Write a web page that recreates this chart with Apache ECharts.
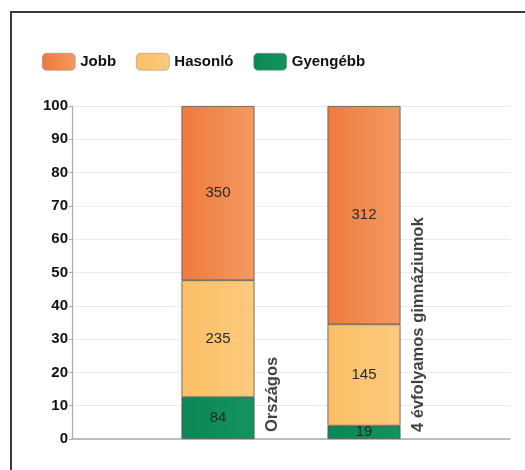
<!DOCTYPE html>
<html><head><meta charset="utf-8">
<script src="https://cdn.jsdelivr.net/npm/echarts@6/dist/echarts.min.js"></script>
<style>
html,body{margin:0;padding:0;background:#fff;}
#frame{position:absolute;left:10px;top:11px;width:600px;height:600px;border-left:2px solid #3a3a3a;border-top:2px solid #3a3a3a;}
#c{position:absolute;left:0;top:0;width:525px;height:470px;}
</style></head>
<body>
<div id="frame"></div>
<div id="c"></div>
<script>
const categories = ['Országos', '4 évfolyamos gimnáziumok'];
const seriesNames = ['Jobb', 'Hasonló', 'Gyengébb'];
const jobb = [350, 312];
const hasonlo = [235, 145];
const gyengebb = [84, 19];
const yTicks = [0, 10, 20, 30, 40, 50, 60, 70, 80, 90, 100];

const totals = categories.map((c, i) => jobb[i] + hasonlo[i] + gyengebb[i]);
// axis slots: empty slot, categories, empty slot (bars sit on inner ticks)
const axisCats = [''].concat(categories, ['']);
function pctData(arr) {
  return ['-'].concat(arr.map((v, i) => ({ value: v / totals[i] * 100, raw: v })), ['-']);
}
const font = '"Liberation Sans", Arial, sans-serif';
function grad(c1, c2) {
  return new echarts.graphic.LinearGradient(0, 0, 1, 0, [{ offset: 0, color: c1 }, { offset: 1, color: c2 }]);
}
const colors = {
  'Jobb': grad('#ef7a3c', '#f49a62'),
  'Hasonló': grad('#fbc066', '#fcc97c'),
  'Gyengébb': grad('#0b8656', '#14935f')
};
const legendColors = { 'Jobb': '#f28a50', 'Hasonló': '#fbc572', 'Gyengébb': '#0e8a5a' };

function barSeries(name, arr) {
  return {
    name: name, type: 'bar', stack: 's', barWidth: 73,
    data: pctData(arr),
    itemStyle: { color: colors[name], borderColor: '#555', borderWidth: 0.8 },
    label: {
      show: true, position: 'inside', color: '#2a2a2a', fontFamily: font, fontSize: 15,
      formatter: p => p.data && p.data.raw !== undefined ? String(p.data.raw) : ''
    },
    emphasis: { disabled: true }
  };
}

const chart = echarts.init(document.getElementById('c'));
chart.setOption({
  animation: false,
  color: seriesNames.map(n => legendColors[n]),
  legend: {
    data: seriesNames, left: 37, top: 48, itemWidth: 33, itemHeight: 17, itemGap: 20,
    textStyle: { fontFamily: font, fontSize: 15, fontWeight: 'bold', color: '#111', padding: [0, 0, 0, 0] },
    itemStyle: { borderColor: '#888', borderWidth: 0.5 }
  },
  grid: { left: 72, right: 15, top: 106, bottom: 31 },
  xAxis: {
    type: 'category', data: axisCats, boundaryGap: false,
    axisLine: { lineStyle: { color: '#aaa', width: 1.5 } },
    axisTick: { show: false }, axisLabel: { show: false }, splitLine: { show: false }
  },
  yAxis: {
    type: 'value', min: yTicks[0], max: yTicks[yTicks.length - 1], interval: 10,
    axisLine: { show: true, lineStyle: { color: '#aaa', width: 1.2 } },
    axisTick: { show: true, length: 3, lineStyle: { color: '#aaa' } },
    axisLabel: { fontFamily: font, fontSize: 15, fontWeight: 'bold', color: '#111', margin: 4 },
    splitLine: { lineStyle: { color: '#ececec' } }
  },
  series: [
    barSeries('Gyengébb', gyengebb),
    barSeries('Hasonló', hasonlo),
    barSeries('Jobb', jobb),
    {
      name: 'names', type: 'scatter', symbolSize: 0, silent: true,
      data: categories.map((c, i) => ({ value: [i + 1, 0], name: c })),
      label: {
        show: true, position: [54, -7], rotate: 90, align: 'left', verticalAlign: 'middle',
        fontFamily: font, fontSize: 16.5, fontWeight: 'bold', color: '#111',
        formatter: p => p.name
      }
    }
  ]
});
</script>
</body></html>
